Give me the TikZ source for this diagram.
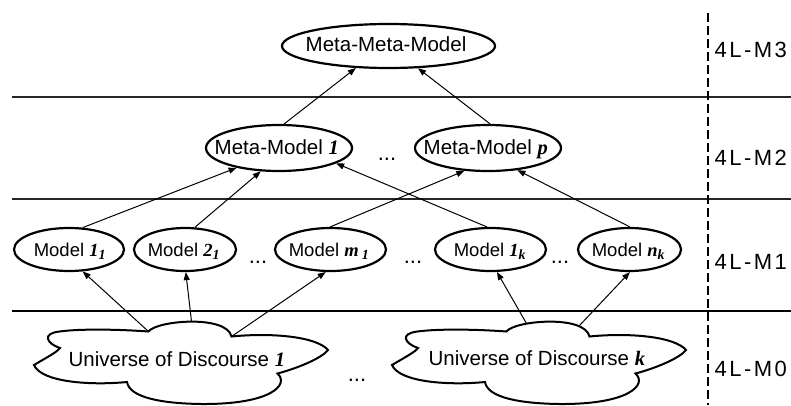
\documentclass[tikz,border=0pt]{standalone}
\usepackage{fontspec}
\setmainfont{Liberation Sans}
\newfontfamily\tnr{Liberation Serif}
\newfontfamily\lspfont{Liberation Sans}[LetterSpace=11]
\usetikzlibrary{shapes.geometric,arrows.meta}
\newcommand\bi[1]{{\tnr\bfseries\itshape #1}}
\newcommand\subx[1]{\raisebox{-3.5pt}{\fontsize{14}{14}\selectfont\bi{#1}}}
\newcommand\udcloud[3]{%
  \begin{scope}[shift={(#2,#3)}]
    \coordinate (#1-A) at (-121.5,14.5);
    \coordinate (#1-E) at (-33,31);
    \coordinate (#1-D) at (50,26);
    \coordinate (#1-R) at (146.5,12.5);
    \coordinate (#1-C) at (96,-11);
    \coordinate (#1-Bot) at (20,-41.5);
    \coordinate (#1-B) at (-54.5,-19.5);
    \coordinate (#1-L) at (-147.5,-2.5);
    \coordinate (#1-T) at (10,41);
    \coordinate (#1-TL) at (-13,39);
    \coordinate (#1-TR) at (40,37);
    \draw[cloudline] (#1-A) .. controls (-135,19) and (-140,29) .. (-122,31)
      .. controls (-100,34) and (-60,33) .. (#1-E)
      .. controls (-25,42) and (45,48) .. (#1-D)
      .. controls (90,30) and (135,26) .. (#1-R)
      .. controls (140,4) and (115,-6) .. (#1-C)
      .. controls (108,-22) and (90,-42) .. (#1-Bot)
      .. controls (-20,-41) and (-52,-35) .. (#1-B)
      .. controls (-90,-23) and (-140,-20) .. (#1-L)
      .. controls (-135,5) and (-125,10) .. (#1-A) -- cycle;
  \end{scope}}
\begin{document}
\begin{tikzpicture}[x=1pt,y=1pt,
  ell/.style={draw, ellipse, line width=2.2pt, inner sep=0pt},
  txt/.style={anchor=base west, inner sep=0pt, font=\fontsize{20.5}{24}\selectfont},
  mtxt/.style={anchor=base west, inner sep=0pt, font=\fontsize{18.5}{22}\selectfont},
  lvl/.style={anchor=base west, inner sep=0pt, font=\lspfont\fontsize{22}{26}\selectfont},
  dots/.style={anchor=base, inner sep=0pt, font=\fontsize{22}{26}\selectfont},
  conn/.style={line width=1pt, -{Triangle[length=8pt,width=6pt]}},
  cloudline/.style={line width=2pt},
  thinline/.style={line width=1.4pt, black!85},
  thickline/.style={line width=2.8pt},
  dashline/.style={line width=2pt, dash pattern=on 9pt off 4pt}
]
\fill[white] (0,0) rectangle (791,405);
\useasboundingbox (0,0) rectangle (791,405);

% level separators
\draw[thinline] (12,308) -- (791,308);
\draw[thinline] (12,206) -- (791,206);
\draw[thickline] (12,94) -- (791,94);
\draw[dashline] (708,392) -- (708,0);

% level labels
\node[lvl] (l3) at (714.5,347.7) {4L-M3};
\node[lvl] (l2) at (714.5,240) {4L-M2};
\node[lvl] (l1) at (714.5,136) {4L-M1};
\node[lvl] (l0) at (714.5,29) {4L-M0};

% ellipses
\node[ell, minimum width=213pt, minimum height=44pt] (mmm) at (388.5,359) {};
\node[ell, minimum width=146pt, minimum height=46pt] (mm1) at (279,257) {};
\node[ell, minimum width=146pt, minimum height=46pt] (mmp) at (488,257) {};
\node[ell, minimum width=110pt, minimum height=43pt] (m11) at (69,155.5) {};
\node[ell, minimum width=102pt, minimum height=43pt] (m21) at (185,155.5) {};
\node[ell, minimum width=111pt, minimum height=43pt] (mdm1) at (330.5,155.5) {};
\node[ell, minimum width=111pt, minimum height=43pt] (m1k) at (490.5,155.5) {};
\node[ell, minimum width=103pt, minimum height=43pt] (mnk) at (629.5,155.5) {};

% texts
\node[txt] (tmmm) at (305.5,353.3) {Meta-Meta-Model};
\node[txt] (tmm1) at (214.5,251) {Meta-Model \bi{1}};
\node[txt] (tmmp) at (423.5,251) {Meta-Model \bi{p}};
\node[mtxt] (tm11) at (33.6,149) {Model \bi{1}\subx{1}};
\node[mtxt] (tm21) at (147.6,149) {Model \bi{2}\subx{1}};
\node[mtxt] (tmdm1) at (288.6,149) {Model \bi{m}\,\subx{1}};
\node[mtxt] (tm1k) at (453.6,149) {Model \bi{1}\subx{k}};
\node[mtxt] (tmnk) at (591.6,149) {Model \bi{n}\subx{k}};

% clouds
\udcloud{c1}{181.5}{42.5}
\udcloud{ck}{539.5}{42.5}
\node[txt] (tu1) at (68.4,38.3) {Universe of Discourse \bi{1}};
\node[txt] (tuk) at (428.4,39.5) {Universe of Discourse \bi{k}};

% dots
\node[dots] (d1) at (387,244.5) {...};
\node[dots] (d2) at (258,141.5) {...};
\node[dots] (d3) at (413,141.5) {...};
\node[dots] (d4) at (560,141.5) {...};
\node[dots] (d5) at (357,23.5) {...};

% connectors
\draw[conn] (mm1.78) -- (mmm.-146);
\draw[conn] (mmp.85) -- (mmm.-37);
\draw[conn] (m11.58) -- (mm1.-155);
\draw[conn] (m21.66) -- (mm1.-128);
\draw[conn] (m1k.99) -- (mm1.-15);
\draw[conn] (mdm1.91) -- (mmp.-136);
\draw[conn] (mnk.89) -- (mmp.-37);
\draw[conn] (c1-E) -- (m11.-58);
\draw[conn] (c1-T) -- (m21.-88);
\draw[conn] (c1-D) -- (mdm1.-102);
\draw[conn] (ck-TL) -- (m1k.-74);
\draw[conn] (ck-TR) -- (mnk.-89);
\end{tikzpicture}
\end{document}
